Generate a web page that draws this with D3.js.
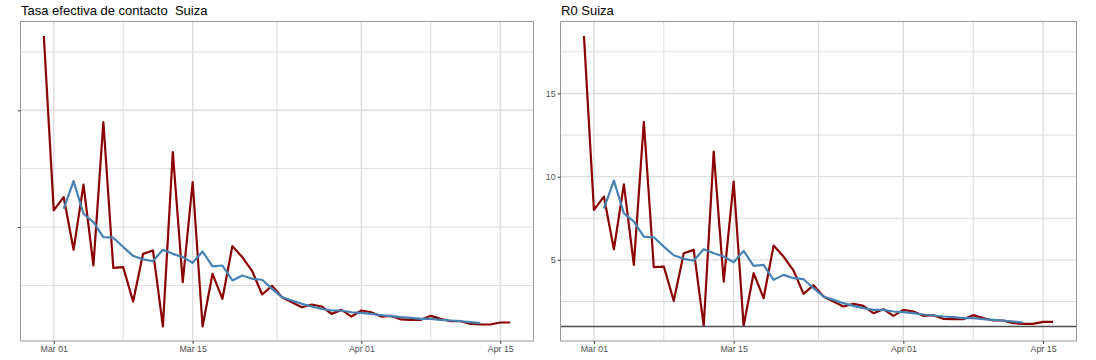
<!DOCTYPE html>
<html><head><meta charset="utf-8">
<script src="https://cdn.jsdelivr.net/npm/d3@7"></script>
<style>
body{margin:0;background:#fff}
svg{display:block}
text{font-family:"Liberation Sans",Arial,Helvetica,sans-serif}
</style>
</head><body>
<svg id="c" width="1096" height="360"></svg>
<script>
// ---- data ----
const startDate = "2020-02-29";
const endDate = "2020-04-16";
const smoothStartDate = "2020-03-02";

// Left panel: "Tasa efectiva de contacto" (daily, dark red)
const tasaDaily = [2.636,1.143,1.257,0.806,1.363,0.671,1.9,0.651,0.657,0.363,0.771,0.8,0.149,1.643,0.529,1.386,0.149,0.6,0.386,0.837,0.743,0.623,0.423,0.497,0.4,0.357,0.314,0.337,0.32,0.257,0.291,0.234,0.286,0.271,0.234,0.24,0.209,0.206,0.206,0.24,0.214,0.194,0.194,0.171,0.166,0.166,0.183,0.183];
// Left panel smoothed (steel blue)
const tasaSmooth = [1.157,1.394,1.114,1.043,0.914,0.909,0.829,0.754,0.723,0.709,0.806,0.771,0.743,0.694,0.791,0.663,0.671,0.543,0.586,0.557,0.549,0.471,0.4,0.371,0.343,0.32,0.3,0.286,0.286,0.271,0.266,0.257,0.246,0.237,0.229,0.223,0.214,0.214,0.206,0.2,0.194,0.186,0.177];

// Right panel: R0 (daily, dark red)
const r0Daily = [18.45,8.0,8.8,5.64,9.54,4.7,13.3,4.56,4.6,2.54,5.4,5.6,1.04,11.5,3.7,9.7,1.04,4.2,2.7,5.86,5.2,4.36,2.96,3.48,2.8,2.5,2.2,2.36,2.24,1.8,2.04,1.64,2.0,1.9,1.64,1.68,1.46,1.44,1.44,1.68,1.5,1.36,1.36,1.2,1.16,1.16,1.28,1.28];
// Right panel smoothed (steel blue)
const r0Smooth = [8.1,9.76,7.8,7.3,6.4,6.36,5.8,5.28,5.06,4.96,5.64,5.4,5.2,4.86,5.54,4.64,4.7,3.8,4.1,3.9,3.84,3.3,2.8,2.6,2.4,2.24,2.1,2.0,2.0,1.9,1.86,1.8,1.72,1.66,1.6,1.56,1.5,1.5,1.44,1.4,1.36,1.3,1.24];
const r0Threshold = 1;

const xTickDates = ["2020-03-01","2020-03-15","2020-04-01","2020-04-15"];
const xTickLabels = ["Mar 01","Mar 15","Apr 01","Apr 15"];
const leftYTicks = [1,2];
const leftYTickLabels = ["",""];
const rightYTicks = [5,10,15];
const rightYTickLabels = ["5","10","15"];
const titles = ["Tasa efectiva de contacto  Suiza","R0 Suiza"];

// ---- drawing ----
const parse = d3.utcParse("%Y-%m-%d");
const days = d3.utcDay.range(parse(startDate), d3.utcDay.offset(parse(endDate),1));
const sStart = parse(smoothStartDate);
const sDays = d3.range(r0Smooth.length).map(i => d3.utcDay.offset(sStart, i));

const svg = d3.select("#c");

function expand(ext){ const r = ext[1]-ext[0]; return [ext[0]-0.05*r, ext[1]+0.05*r]; }

function panel(o){
  const g = svg.append("g");
  const xd = expand([+days[0], +days[days.length-1]]);
  const x = d3.scaleUtc().domain([new Date(xd[0]), new Date(xd[1])]).range([o.x0, o.x1]);
  let ext = d3.extent(o.daily.concat(o.smooth).concat(o.hline!=null?[o.hline]:[]));
  const y = d3.scaleLinear().domain(expand(ext)).range([o.y1, o.y0]);

  // minor gridlines
  const xt = xTickDates.map(parse);
  const xMinor = [];
  for(let i=0;i<xt.length-1;i++) xMinor.push(new Date((+xt[i] + +xt[i+1])/2));
  const yStep = o.yTicks[1]-o.yTicks[0];
  const yMinor = [o.yTicks[0]-yStep/2];
  o.yTicks.forEach(v => yMinor.push(v+yStep/2));
  const [yl, yh] = y.domain();
  const grid = g.append("g");
  grid.selectAll(".vm").data(xMinor).join("line")
    .attr("x1", d=>x(d)).attr("x2", d=>x(d)).attr("y1", o.y0).attr("y2", o.y1)
    .attr("stroke", "#d9d9d9").attr("stroke-width", 0.9);
  grid.selectAll(".hm").data(yMinor.filter(v=>v>yl&&v<yh)).join("line")
    .attr("x1", o.x0).attr("x2", o.x1).attr("y1", d=>y(d)).attr("y2", d=>y(d))
    .attr("stroke", "#d9d9d9").attr("stroke-width", 0.9);
  grid.selectAll(".vM").data(xt).join("line")
    .attr("x1", d=>x(d)).attr("x2", d=>x(d)).attr("y1", o.y0).attr("y2", o.y1)
    .attr("stroke", "#dedede").attr("stroke-width", 1.4);
  grid.selectAll(".hM").data(o.yTicks).join("line")
    .attr("x1", o.x0).attr("x2", o.x1).attr("y1", d=>y(d)).attr("y2", d=>y(d))
    .attr("stroke", "#dedede").attr("stroke-width", 1.4);

  const line = d3.line().x(d=>x(d[0])).y(d=>y(d[1]));
  g.append("path").datum(days.map((d,i)=>[d,o.daily[i]]))
    .attr("d", line).attr("fill","none").attr("stroke","#8B0000")
    .attr("stroke-width",2.2).attr("stroke-linejoin","round");
  g.append("path").datum(sDays.map((d,i)=>[d,o.smooth[i]]))
    .attr("d", line).attr("fill","none").attr("stroke","#4682B4")
    .attr("stroke-width",2.2).attr("stroke-linejoin","round");
  if(o.hline!=null){
    g.append("line").attr("x1",o.x0).attr("x2",o.x1)
      .attr("y1",y(o.hline)).attr("y2",y(o.hline))
      .attr("stroke","#4d4d4d").attr("stroke-width",1.3);
  }
  // border
  g.append("rect").attr("x",o.x0).attr("y",o.y0).attr("width",o.x1-o.x0).attr("height",o.y1-o.y0)
    .attr("fill","none").attr("stroke","#9a9a9a").attr("stroke-width",1);

  // axes
  const xa = d3.axisBottom(x).tickValues(xt).tickSize(2.75).tickPadding(2.5)
    .tickFormat((d,i)=>xTickLabels[i]);
  const xg = g.append("g").attr("transform",`translate(0,${o.y1})`).call(xa);
  xg.select(".domain").remove();
  xg.selectAll("line").attr("stroke","#333333");
  xg.selectAll("text").attr("fill","#4d4d4d").attr("font-size","8.8px")
    .attr("font-family",'"Liberation Sans",Arial,sans-serif');
  const ya = d3.axisLeft(y).tickValues(o.yTicks).tickSize(2.75).tickPadding(2.2)
    .tickFormat((d,i)=>o.yLabels[i]);
  const yg = g.append("g").attr("transform",`translate(${o.x0},0)`).call(ya);
  yg.select(".domain").remove();
  yg.selectAll("line").attr("stroke","#333333");
  yg.selectAll("text").attr("fill","#4d4d4d").attr("font-size","8.8px")
    .attr("font-family",'"Liberation Sans",Arial,sans-serif');

  g.append("text").attr("x",o.x0+0.5).attr("y",15).attr("font-size","13px")
    .attr("fill","#000").style("white-space","pre").text(o.title);
}

panel({x0:20.5,x1:533.5,y0:21.5,y1:341,daily:tasaDaily,smooth:tasaSmooth,hline:null,
  yTicks:leftYTicks,yLabels:leftYTickLabels,title:titles[0]});
panel({x0:560.5,x1:1076.5,y0:21.5,y1:341,daily:r0Daily,smooth:r0Smooth,hline:r0Threshold,
  yTicks:rightYTicks,yLabels:rightYTickLabels,title:titles[1]});
</script>
</body></html>
